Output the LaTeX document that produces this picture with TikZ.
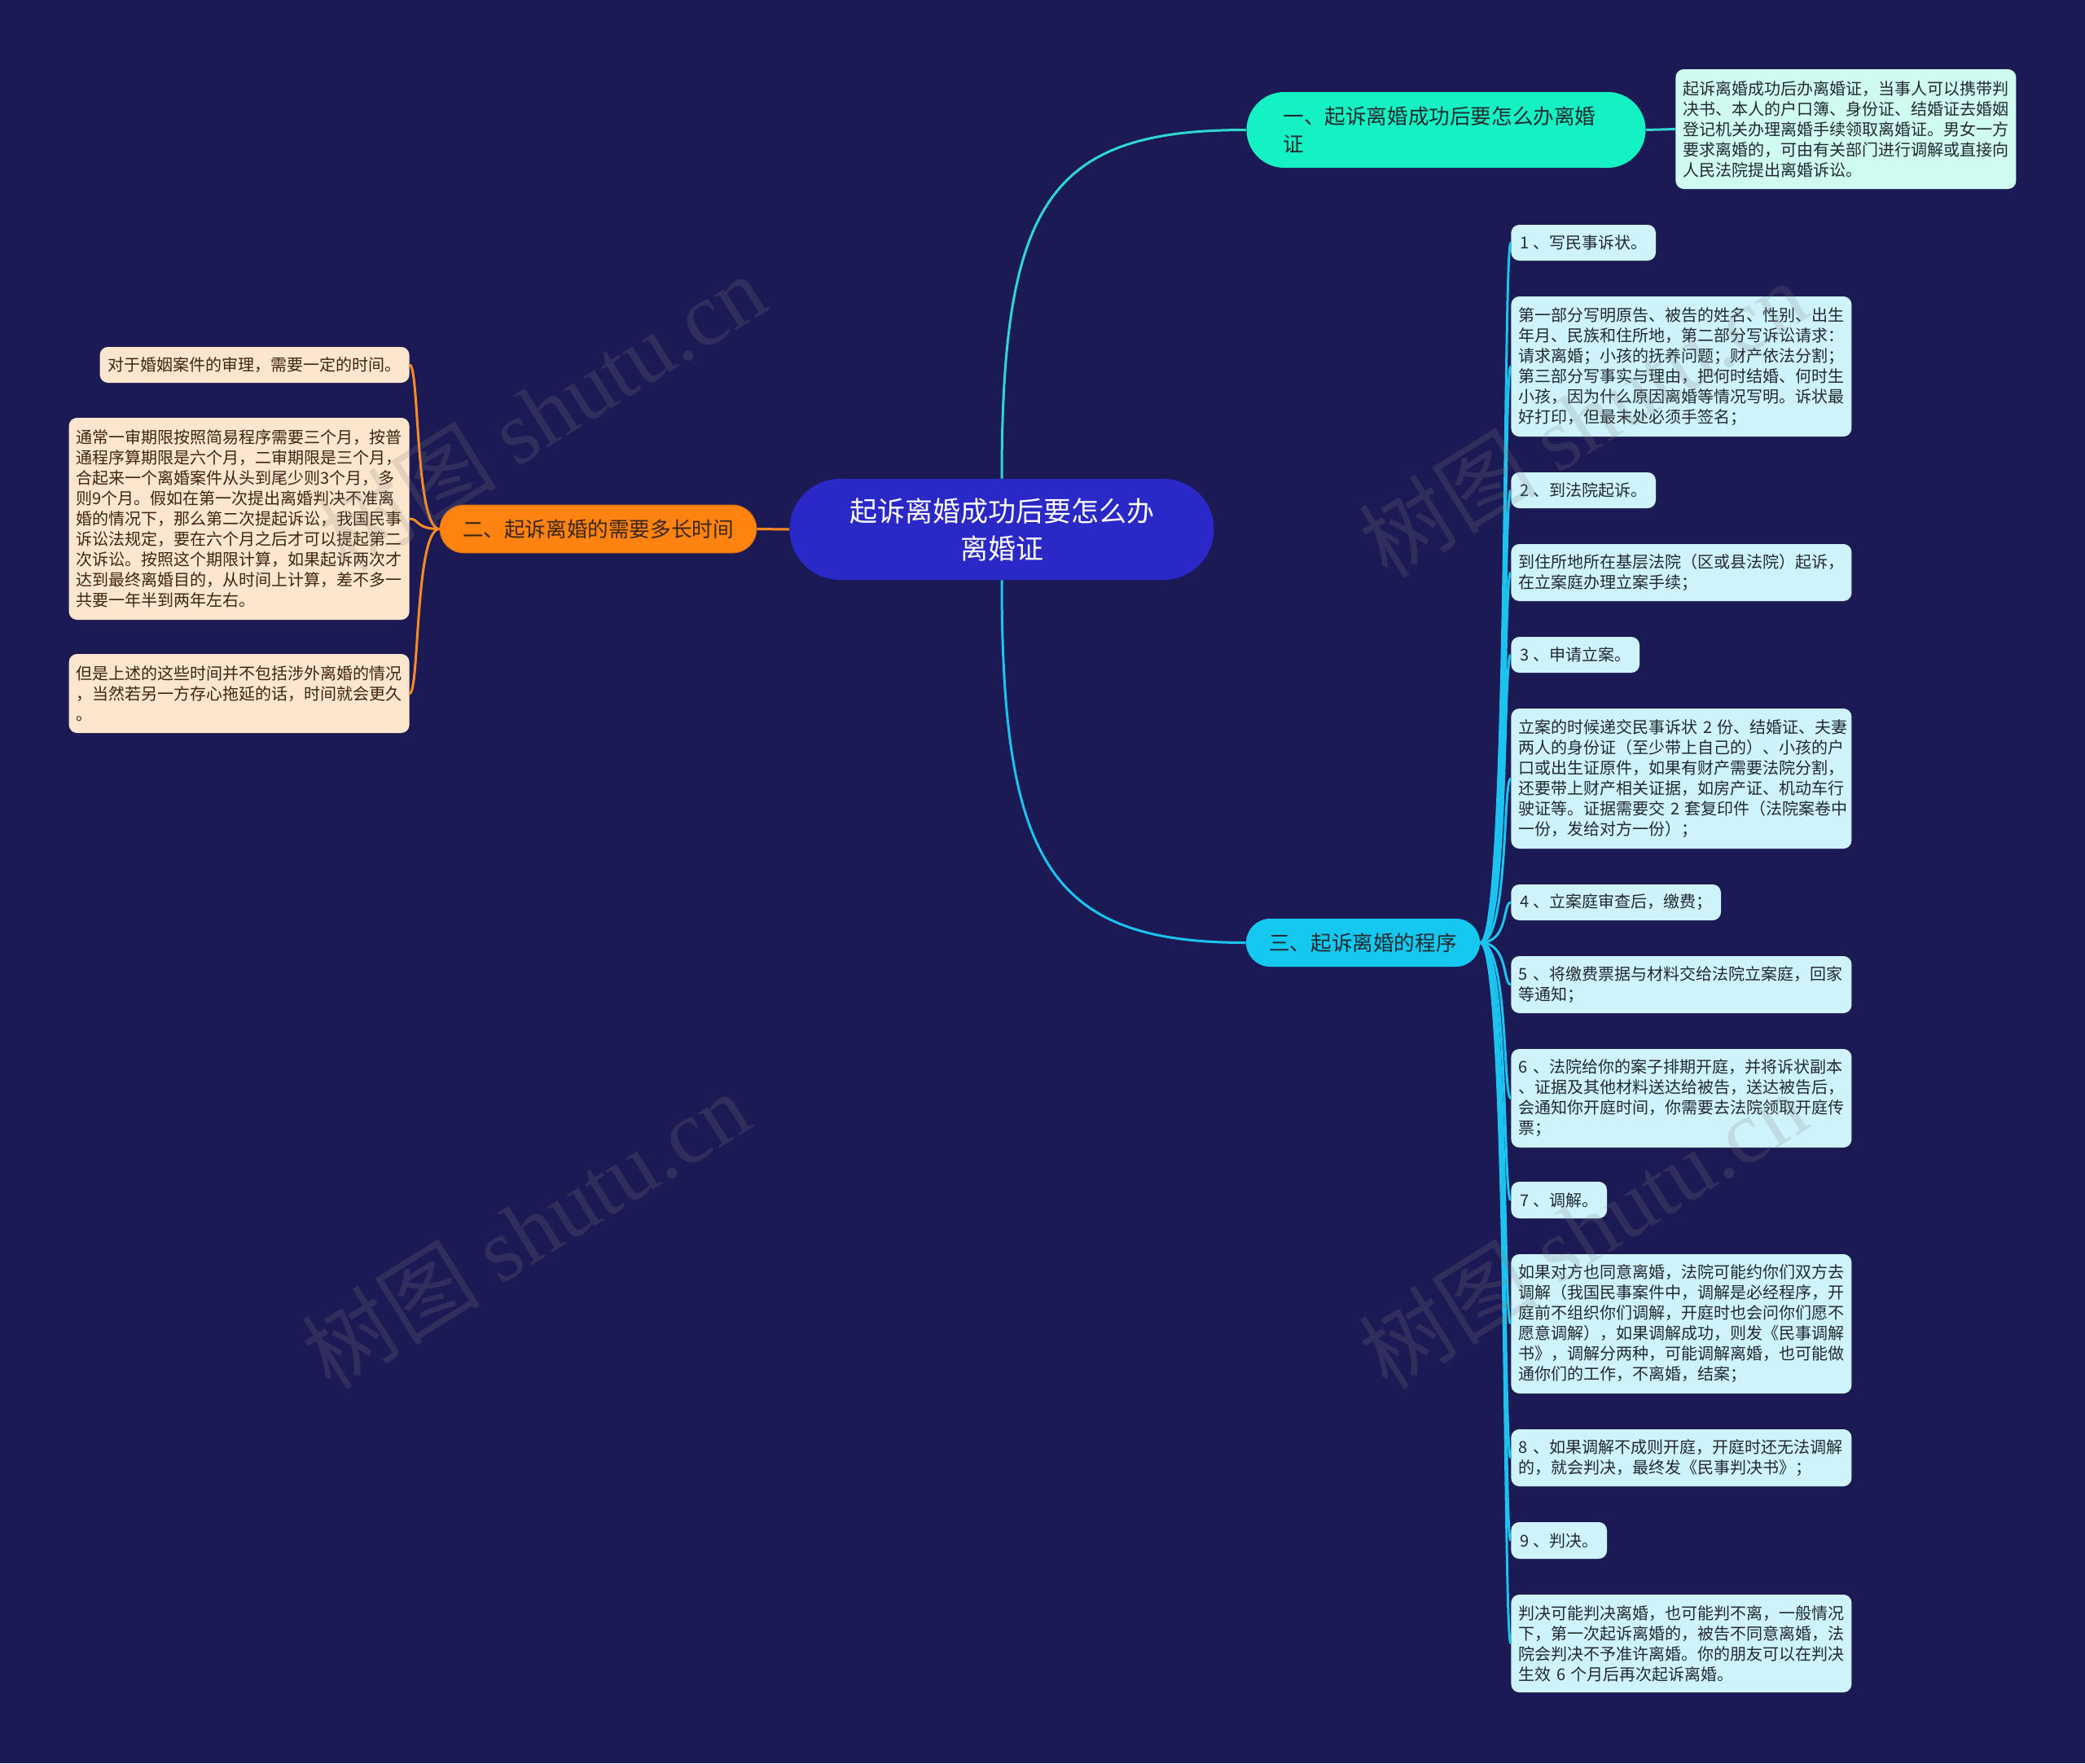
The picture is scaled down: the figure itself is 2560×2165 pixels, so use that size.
\documentclass[tikz,border=0pt]{standalone}
\usepackage{fontspec}
\setmainfont{Noto Sans CJK SC}
\newfontfamily\wmserif{Liberation Serif}
\definecolor{bgc}{HTML}{1B1A54}
\definecolor{rootc}{HTML}{2A28C6}
\definecolor{bonec}{HTML}{14F2C4}
\definecolor{lonec}{HTML}{CFFBF0}
\definecolor{btwoc}{HTML}{FF8310}
\definecolor{ltwoc}{HTML}{FDE6CE}
\definecolor{bthreec}{HTML}{15C8EF}
\definecolor{lthreec}{HTML}{CFF3FB}
\definecolor{eonec}{HTML}{2ED8D0}
\definecolor{ethreec}{HTML}{1CC3EE}
\definecolor{etwoc}{HTML}{FF8A22}
\definecolor{darktxt}{HTML}{222A30}
\definecolor{browntxt}{HTML}{3A2616}
\definecolor{wmc}{HTML}{808080}
\begin{document}
\begin{tikzpicture}[x=0.5pt,y=-0.5pt,
  rootnode/.style={fill=rootc, text=white, rounded corners=31pt, minimum width=260.5pt,
    minimum height=62pt, align=center, inner sep=0pt, font=\fontsize{17pt}{23pt}\selectfont},
  branchbase/.style={inner ysep=0pt, text=darktxt, font=\fontsize{12.8pt}{17pt}\selectfont},
  bone/.style={branchbase, fill=bonec, rounded corners=23.25pt, minimum height=46.5pt,
    text width=200pt, inner xsep=22.5pt, align=left},
  btwo/.style={branchbase, fill=btwoc, draw=btwoc!80!black, line width=0.4pt, text=browntxt,
    rounded corners=14.75pt, minimum height=29.5pt, minimum width=194.5pt, inner xsep=0pt},
  bthree/.style={branchbase, fill=bthreec, rounded corners=14.75pt, minimum height=29.5pt,
    minimum width=143.5pt, inner xsep=0pt},
  leafbase/.style={rounded corners=5pt, inner ysep=0pt, align=left,
    font=\fontsize{10pt}{12.5pt}\selectfont},
  rleaf/.style={leafbase, fill=lthreec, text=darktxt, anchor=west, text width=200pt,
    inner xsep=4.5pt, minimum height=#1},
  rshort/.style={leafbase, fill=lthreec, text=darktxt, anchor=west, inner xsep=5.5pt,
    minimum height=#1},
  lleaf/.style={leafbase, fill=ltwoc, text=browntxt, anchor=east, text width=200pt,
    inner xsep=4.5pt, minimum height=#1},
  lshort/.style={leafbase, fill=ltwoc, text=browntxt, anchor=east, inner xsep=5pt,
    minimum height=#1},
  oneleaf/.style={leafbase, fill=lonec, text=darktxt, anchor=west, text width=200pt,
    inner xsep=4.5pt, minimum height=#1},
  conn/.style={line width=1.5pt},
  wm/.style={text=wmc, opacity=0.2, rotate=32, font=\fontsize{55pt}{60pt}\selectfont}
]
\fill[bgc] (0,0) rectangle (2560,2165);
\useasboundingbox (0,0) rectangle (2560,2165);

% root and branches
\node[rootnode] (root) at (1230,650) {起诉离婚成功后要怎么办\\离婚证};
\node[bone] (b1) at (1775.5,159.5) {一、起诉离婚成功后要怎么办离婚\\证};
\node[btwo] (b2) at (734.5,649.5) {二、起诉离婚的需要多长时间};
\node[bthree] (b3) at (1673.5,1157.5) {三、起诉离婚的程序};

% branch one leaf
\node[oneleaf=73.5pt] (o1) at (2057,158.5) {起诉离婚成功后办离婚证，当事人可以携带判\\决书、本人的户口簿、身份证、结婚证去婚姻\\登记机关办理离婚手续领取离婚证。男女一方\\要求离婚的，可由有关部门进行调解或直接向\\人民法院提出离婚诉讼。};

% branch two leaves
\node[lshort=22pt] (l1) at (503,448) {对于婚姻案件的审理，需要一定的时间。};
\node[lleaf=124pt] (l2) at (503,637) {通常一审期限按照简易程序需要三个月，按普\\通程序算期限是六个月，二审期限是三个月，\\合起来一个离婚案件从头到尾少则3个月，多\\则9个月。假如在第一次提出离婚判决不准离\\婚的情况下，那么第二次提起诉讼，我国民事\\诉讼法规定，要在六个月之后才可以提起第二\\次诉讼。按照这个期限计算，如果起诉两次才\\达到最终离婚目的，从时间上计算，差不多一\\共要一年半到两年左右。};
\node[lleaf=48.5pt] (l3) at (503,851.5) {但是上述的这些时间并不包括涉外离婚的情况\\，当然若另一方存心拖延的话，时间就会更久\\。};

% branch three leaves
\node[rshort=22pt] (r1) at (1855,298) {1~、写民事诉状。};
\node[rleaf=86pt] (r1d) at (1855,450) {第一部分写明原告、被告的姓名、性别、出生\\年月、民族和住所地，第二部分写诉讼请求：\\请求离婚；小孩的抚养问题；财产依法分割；\\第三部分写事实与理由，把何时结婚、何时生\\小孩，因为什么原因离婚等情况写明。诉状最\\好打印，但最末处必须手签名；};
\node[rshort=22pt] (r2) at (1855,602) {2~、到法院起诉。};
\node[rleaf=35pt] (r2d) at (1855,703) {到住所地所在基层法院（区或县法院）起诉，\\在立案庭办理立案手续；};
\node[rshort=22pt] (r3) at (1855,804) {3~、申请立案。};
\node[rleaf=86pt] (r3d) at (1855,956) {立案的时候递交民事诉状~2~份、结婚证、夫妻\\两人的身份证（至少带上自己的）、小孩的户\\口或出生证原件，如果有财产需要法院分割，\\还要带上财产相关证据，如房产证、机动车行\\驶证等。证据需要交~2~套复印件（法院案卷中\\一份，发给对方一份）；};
\node[rshort=22pt] (r4) at (1855,1108) {4~、立案庭审查后，缴费；};
\node[rleaf=35pt] (r5) at (1855,1209) {5~、将缴费票据与材料交给法院立案庭，回家\\等通知；};
\node[rleaf=60.5pt] (r6) at (1855,1348.5) {6~、法院给你的案子排期开庭，并将诉状副本\\、证据及其他材料送达给被告，送达被告后，\\会通知你开庭时间，你需要去法院领取开庭传\\票；};
\node[rshort=22.5pt] (r7) at (1855,1473.5) {7~、调解。};
\node[rleaf=85.5pt] (r7d) at (1855,1625.5) {如果对方也同意离婚，法院可能约你们双方去\\调解（我国民事案件中，调解是必经程序，开\\庭前不组织你们调解，开庭时也会问你们愿不\\愿意调解），如果调解成功，则发《民事调解\\书》，调解分两种，可能调解离婚，也可能做\\通你们的工作，不离婚，结案；};
\node[rleaf=35pt] (r8) at (1855,1790) {8~、如果调解不成则开庭，开庭时还无法调解\\的，就会判决，最终发《民事判决书》；};
\node[rshort=22.5pt] (r9) at (1855,1891.5) {9~、判决。};
\node[rleaf=60pt] (r9d) at (1855,2018) {判决可能判决离婚，也可能判不离，一般情况\\下，第一次起诉离婚的，被告不同意离婚，法\\院会判决不予准许离婚。你的朋友可以在判决\\生效~6~个月后再次起诉离婚。};

% connectors
\draw[conn, eonec] (root.north) .. controls +(0,-343) and +(-240,0) .. (b1.west);
\draw[conn, ethreec] (root.south) .. controls +(0,348) and +(-240,0) .. (b3.west);
\draw[conn, etwoc] (root.west) -- (b2.east);
\draw[conn, eonec] (b1.east) -- (o1.west);
\foreach \n in {l1,l2,l3}
  \draw[conn, etwoc] (b2.west) .. controls +(-30,0) and +(12,0) .. (\n.east);
\foreach \n in {r1,r1d,r2,r2d,r3,r3d,r4,r5,r6,r7,r7d,r8,r9,r9d}
  \draw[conn, ethreec] (b3.east) .. controls +(35,0) and +(-10,0) .. (\n.west);

% watermarks
\node[wm] (w1) at (665,506) {树图 {\wmserif shutu.cn}};
\node[wm] (w2) at (645,1510) {树图 {\wmserif shutu.cn}};
\node[wm] (w3) at (1943,514) {树图 {\wmserif shutu.cn}};
\node[wm] (w4) at (1943,1510) {树图 {\wmserif shutu.cn}};
\end{tikzpicture}
\end{document}
